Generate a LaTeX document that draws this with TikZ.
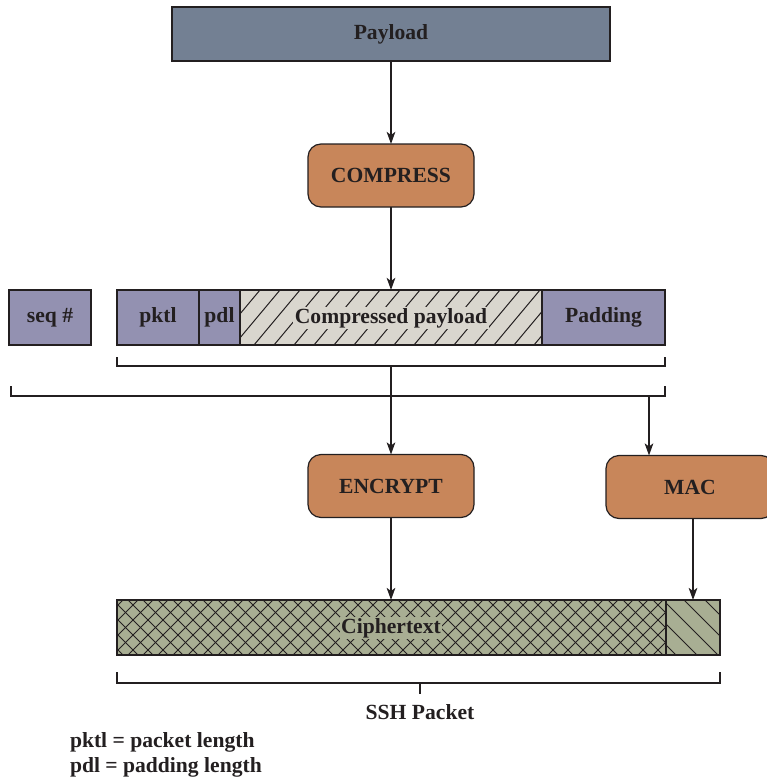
\documentclass[tikz,border=0pt]{standalone}
\usepackage{fontspec}
\setmainfont{Liberation Serif}
\usetikzlibrary{arrows.meta}
\definecolor{txt}{HTML}{231F20}
\definecolor{payloadbg}{HTML}{738093}
\definecolor{procbg}{HTML}{C8865A}
\definecolor{fieldbg}{HTML}{9391B1}
\definecolor{cpaybg}{HTML}{D9D6CE}
\definecolor{cipherbg}{HTML}{A8AE93}
\tikzset{
  every node/.style={font=\fontsize{21.6}{25}\selectfont\bfseries, text=txt, outer sep=0pt},
  plainbox/.style={draw=txt, line width=1.1pt, minimum height=55pt},
  payloadbox/.style={plainbox, fill=payloadbg, minimum width=438pt, minimum height=54pt},
  procbox/.style={draw=txt, line width=1.2pt, fill=procbg, rounded corners=13pt, minimum width=166pt, minimum height=63pt},
  fieldbox/.style={plainbox, fill=fieldbg},
  hatchbox/.style={minimum height=55pt, inner sep=0pt},
  hatchline/.style={draw=txt, line width=1pt},
  strongborder/.style={draw=txt, line width=2pt},
  flow/.style={draw=txt, line width=2.1pt, -{Stealth[length=12pt,width=8.5pt,inset=3pt]}},
  bracket/.style={draw=txt, line width=2.7pt},
  lbl/.style={inner sep=1.5pt}
}
\begin{document}
\begin{tikzpicture}[x=1pt,y=-1pt]
\useasboundingbox (0,0) rectangle (767,779);

% top
\node[payloadbox] (payload) at (391,34) {Payload};
\node[procbox] (compress) at (391,175.5) {COMPRESS};

% field row
\node[fieldbox, minimum width=82pt] (seq) at (50,317.5) {seq \#};
\node[fieldbox, minimum width=82pt] (pktl) at (158,317.5) {pktl};
\node[fieldbox, minimum width=41pt] (pdl) at (219.5,317.5) {pdl};
\node[fieldbox, minimum width=123pt] (padding) at (603.5,317.5) {Padding};
\node[hatchbox, fill=cpaybg, minimum width=302pt] (cpay) at (391,317.5) {};
\begin{scope}
  \clip (cpay.south west) rectangle (cpay.north east);
  \foreach \x in {194,214,...,560} \draw[hatchline] (\x,345) -- ++(46,-55);
\end{scope}
\draw[strongborder] (cpay.south west) rectangle (cpay.north east);
\node[lbl, fill=cpaybg] (cpaylbl) at (391,318) {Compressed payload};

% brackets
\coordinate (b1l) at (117,357);
\coordinate (b1r) at (665,357);
\coordinate (b1m) at (391,366);
\draw[bracket] (b1l) |- (b1r |- b1m) -- (b1r);
\coordinate (b2l) at (11,386);
\coordinate (b2r) at (665,386);
\coordinate (b2m) at (649,396);
\draw[bracket] (b2l) |- (b2m) -- (b2r |- b2m) -- (b2r);

% processes
\node[procbox] (encrypt) at (391,486) {ENCRYPT};
\node[procbox, minimum width=168pt] (mac) at (690,487) {MAC};

% output packet
\node[hatchbox, fill=cipherbg, minimum width=549pt] (cipher) at (391.5,627.5) {};
\node[hatchbox, fill=cipherbg, minimum width=54pt] (macpart) at (693,627.5) {};
\begin{scope}
  \clip (cipher.south west) rectangle (cipher.north east);
  \foreach \x in {53,68,...,680} {
    \draw[hatchline] (\x,655) -- ++(55,-55);
    \draw[hatchline] (\x,600) -- ++(55,55);
  }
\end{scope}
\begin{scope}
  \clip (macpart.south west) rectangle (macpart.north east);
  \foreach \x in {600,621,...,730} \draw[hatchline] (\x,600) -- ++(55,55);
\end{scope}
\draw[strongborder] (cipher.south west) rectangle (cipher.north east);
\draw[draw=txt, line width=1.1pt] (macpart.south west) rectangle (macpart.north east);
\node[lbl, fill=cipherbg] (cipherlbl) at (391,628) {Ciphertext};

% connectors
\draw[flow] (payload) -- (compress);
\draw[flow] (compress) -- (cpay);
\draw[flow] (b1m) -- (encrypt);
\draw[flow] (b2m) -- (b2m |- mac.north);
\draw[flow] (encrypt) -- (encrypt |- cipher.north);
\draw[flow] (mac.south -| macpart) -- (macpart);

% SSH packet bracket
\coordinate (b3l) at (117,672);
\coordinate (b3r) at (720,672);
\coordinate (b3m) at (420,683);
\coordinate (b3t) at (420,694);
\draw[bracket] (b3l) |- (b3m) -| (b3r);
\draw[bracket] (b3m) -- (b3t);
\node[anchor=north] (ssh) at (420,701) {SSH Packet};

% legend
\node[anchor=west, inner sep=0pt] (leg1) at (70,742) {pktl = packet length};
\node[anchor=west, inner sep=0pt] (leg2) at (70,767) {pdl = padding length};
\end{tikzpicture}
\end{document}
